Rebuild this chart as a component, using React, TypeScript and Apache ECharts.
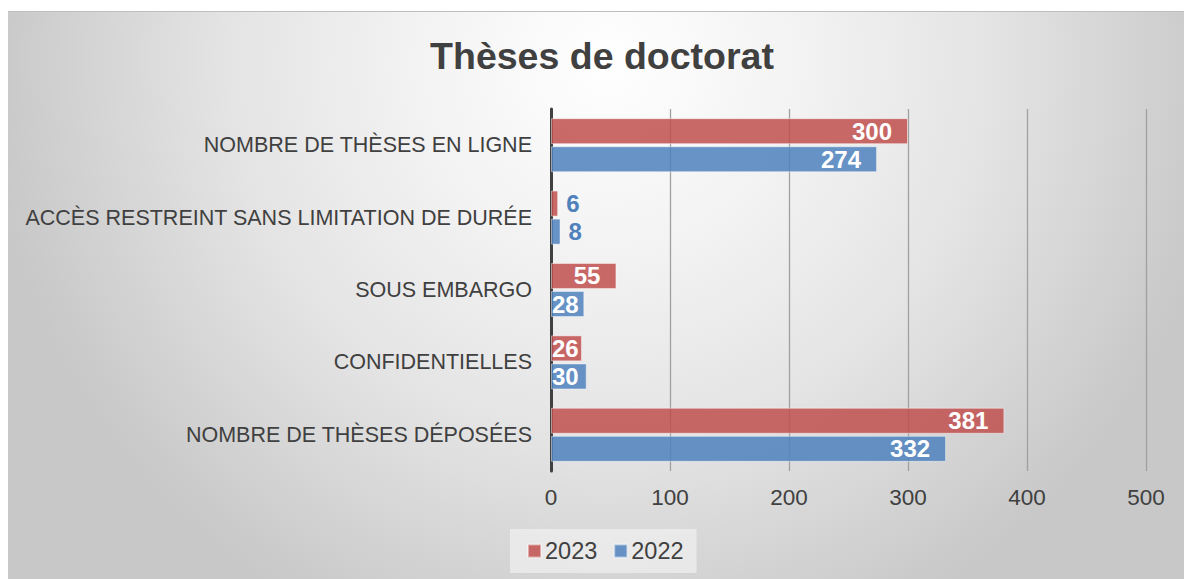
import React, { useEffect, useRef } from "react";
import * as echarts from "echarts";

const categories = [
  "NOMBRE DE THÈSES EN LIGNE",
  "ACCÈS RESTREINT SANS LIMITATION DE DURÉE",
  "SOUS EMBARGO",
  "CONFIDENTIELLES",
  "NOMBRE DE THÈSES DÉPOSÉES",
];
const values2023 = [300, 6, 55, 26, 381];
const values2022 = [274, 8, 28, 30, 332];
const seriesNames = ["2023", "2022"];
const xTicks = { min: 0, max: 500, interval: 100 };

const FONT = "'Liberation Sans', Arial, sans-serif";
const TEXT = "#404040";

function labelFor(v: number) {
  const base = { show: true, fontSize: 24, fontWeight: "bold", fontFamily: FONT };
  if (v < 12) {
    return { ...base, position: "right", distance: 8, color: "#4f81bd" };
  }
  if (v < 40) {
    return { ...base, position: "insideLeft", distance: 1, color: "#ffffff" };
  }
  return { ...base, position: "insideRight", distance: 16, color: "#ffffff" };
}

export default function App() {
  const ref = useRef<HTMLDivElement>(null);
  useEffect(() => {
    if (!ref.current) return;
    const chart = echarts.init(ref.current, undefined, { renderer: "svg" });
    const mk = (name: string, vals: number[], color: string) => ({
      name,
      type: "bar",
      barWidth: 26,
      barGap: "8%",
      itemStyle: { color, borderColor: "rgba(255,255,255,0.45)", borderWidth: 1 },
      data: vals.map((v) => ({ value: v, label: labelFor(v) })),
    });
    chart.setOption({
      animation: false,
      backgroundColor: "transparent",
      textStyle: { fontFamily: FONT },
      title: {
        text: "Thèses de doctorat",
        left: 589,
        textAlign: "center",
        top: 20,
        textStyle: { fontSize: 37.5, fontWeight: "bold", color: TEXT, fontFamily: FONT },
      },
      legend: {
        data: seriesNames,
        left: 502,
        top: 517,
        padding: [10, 13, 10, 17],
        backgroundColor: "rgba(245,245,245,0.6)",
        itemWidth: 13,
        itemHeight: 13,
        itemGap: 16,
        icon: "rect",
        textStyle: { fontSize: 23.5, color: TEXT, fontFamily: FONT, padding: [0, 0, 0, -1] },
      },
      grid: { left: 543, top: 97, width: 595, height: 362, containLabel: false },
      xAxis: {
        type: "value",
        min: xTicks.min,
        max: xTicks.max,
        interval: xTicks.interval,
        axisLine: { show: false },
        axisTick: { show: false },
        axisLabel: { fontSize: 22.5, color: TEXT, margin: 15, fontFamily: FONT },
        splitLine: { show: true, lineStyle: { color: "#a0a0a0", width: 1.3 } },
      },
      yAxis: {
        type: "category",
        inverse: true,
        data: categories,
        axisLine: { show: true, lineStyle: { color: "#404040", width: 3 } },
        axisTick: { show: false },
        axisLabel: { fontSize: 21.5, color: TEXT, margin: 19, fontFamily: FONT },
      },
      series: [
        mk(seriesNames[0], values2023, "rgba(192,80,77,0.85)"),
        mk(seriesNames[1], values2022, "rgba(79,129,189,0.85)"),
      ],
    });
    return () => chart.dispose();
  }, []);
  return (
    <div
      style={{
        position: "absolute",
        left: 8,
        top: 11,
        width: 1176,
        height: 568,
        boxSizing: "border-box",
        borderTop: "1px solid #bdbdbd",
        background:
          "radial-gradient(circle at 600px 50px, #ffffff 0px, #f2f2f2 200px, #e4e4e4 380px, #c8c8c8 620px)",
        overflow: "hidden",
      }}
    >
      <div ref={ref} style={{ width: 1176, height: 567 }} />
    </div>
  );
}
